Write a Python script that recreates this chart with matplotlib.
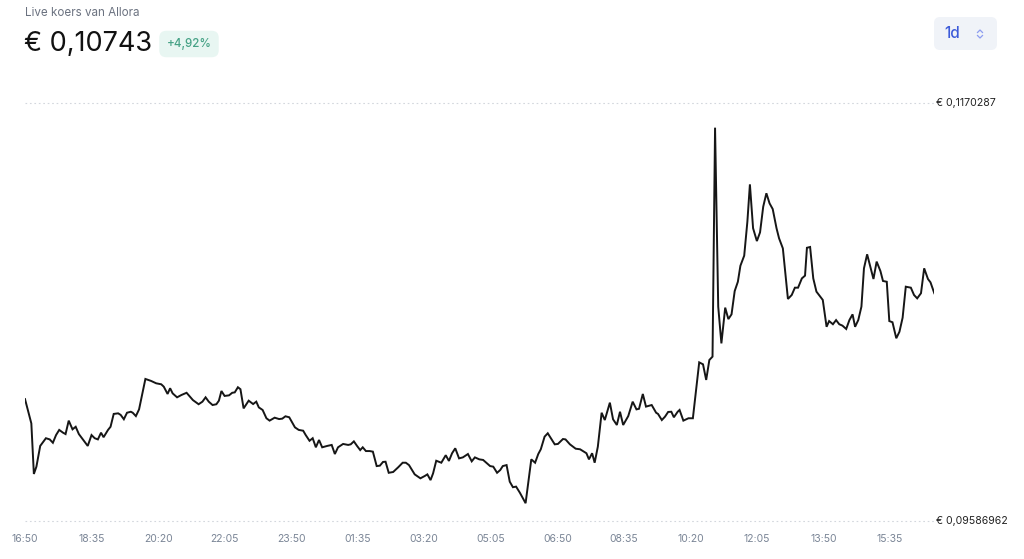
import numpy as np
import matplotlib
matplotlib.use("Agg")
import matplotlib.pyplot as plt
from matplotlib.patches import FancyBboxPatch
from matplotlib.lines import Line2D
from matplotlib.transforms import IdentityTransform, blended_transform_factory

plt.rcParams['font.family'] = ['Inter', 'DejaVu Sans']

# minutes since 16:50 and price in EUR
minutes = [0, 10, 14, 18, 24, 33, 39, 44, 49, 54, 60, 64, 69, 75, 80, 85, 92, 99, 105, 110,
           115, 120, 124, 131, 135, 140, 147, 151, 156, 161, 167, 170, 175, 180, 190, 199, 207, 215, 219, 225,
           229, 233, 240, 247, 255, 265, 274, 280, 285, 290, 296, 302, 306, 310, 315, 322, 327, 331, 336, 340,
           345, 353, 360, 365, 369, 375, 381, 386, 394, 401, 406, 411, 417, 420, 426, 432, 439, 443, 449, 454,
           459, 464, 469, 477, 484, 489, 494, 502, 510, 514, 519, 524, 529, 533, 538, 544, 549, 555, 560, 565,
           569, 574, 581, 589, 596, 601, 606, 615, 624, 631, 635, 640, 644, 649, 657, 664, 669, 674, 679, 685,
           691, 699, 705, 710, 717, 723, 728, 734, 739, 745, 750, 754, 760, 765, 770, 775, 781, 790, 799, 805,
           810, 814, 820, 825, 829, 836, 841, 849, 853, 860, 869, 876, 882, 886, 890, 895, 899, 904, 910, 915,
           923, 928, 934, 939, 944, 952, 959, 965, 969, 975, 980, 989, 996, 999, 1005, 1010, 1015, 1020, 1024, 1030,
           1033, 1039, 1047, 1054, 1064, 1070, 1075, 1080, 1085, 1089, 1094, 1099, 1105, 1110, 1115, 1120, 1125, 1129, 1135, 1140,
           1144, 1149, 1155, 1160, 1165, 1170, 1175, 1180, 1186, 1190, 1196, 1204, 1210, 1215, 1220, 1226, 1231, 1234, 1239, 1244,
           1249, 1259, 1265, 1269, 1275, 1280, 1285, 1290, 1296, 1301, 1306, 1310, 1315, 1320, 1324, 1329, 1339, 1344, 1350, 1354,
           1360, 1364, 1369, 1375, 1380, 1385, 1390, 1398, 1403, 1408, 1414, 1419, 1425, 1429, 1435]

prices = [0.10204, 0.10081, 0.09825, 0.09862, 0.09967, 0.10006, 0.10000, 0.09983, 0.10022, 0.10048,
          0.10034, 0.10027, 0.10095, 0.10051, 0.10064, 0.10027, 0.09997, 0.09967, 0.10022, 0.10006,
          0.10000, 0.10034, 0.10011, 0.10048, 0.10064, 0.10129, 0.10132, 0.10124, 0.10102, 0.10135,
          0.10140, 0.10135, 0.10118, 0.10152, 0.10306, 0.10296, 0.10284, 0.10279, 0.10267, 0.10230,
          0.10259, 0.10233, 0.10213, 0.10225, 0.10236, 0.10199, 0.10178, 0.10191, 0.10213, 0.10191,
          0.10174, 0.10178, 0.10196, 0.10245, 0.10220, 0.10223, 0.10236, 0.10238, 0.10264, 0.10254,
          0.10157, 0.10196, 0.10179, 0.10191, 0.10162, 0.10149, 0.10107, 0.10095, 0.10110, 0.10103,
          0.10105, 0.10117, 0.10112, 0.10095, 0.10061, 0.10048, 0.10044, 0.10022, 0.09993, 0.10006,
          0.09960, 0.09997, 0.09960, 0.09967, 0.09972, 0.09926, 0.09960, 0.09977, 0.09972, 0.09975,
          0.09990, 0.09967, 0.09946, 0.09960, 0.09941, 0.09941, 0.09938, 0.09865, 0.09867, 0.09886,
          0.09887, 0.09831, 0.09835, 0.09859, 0.09882, 0.09882, 0.09870, 0.09823, 0.09803, 0.09815,
          0.09823, 0.09794, 0.09828, 0.09892, 0.09882, 0.09920, 0.09891, 0.09930, 0.09955, 0.09904,
          0.09909, 0.09926, 0.09889, 0.09909, 0.09899, 0.09896, 0.09882, 0.09865, 0.09862, 0.09831,
          0.09845, 0.09865, 0.09870, 0.09786, 0.09758, 0.09761, 0.09730, 0.09677, 0.09899, 0.09882,
          0.09926, 0.09950, 0.10014, 0.10031, 0.10011, 0.09975, 0.09977, 0.10002, 0.10000, 0.09975,
          0.09953, 0.09950, 0.09938, 0.09930, 0.09899, 0.09930, 0.09882, 0.09963, 0.10135, 0.10098,
          0.10186, 0.10102, 0.10073, 0.10140, 0.10073, 0.10118, 0.10191, 0.10152, 0.10155, 0.10230,
          0.10166, 0.10174, 0.10135, 0.10129, 0.10098, 0.10115, 0.10139, 0.10140, 0.10112, 0.10140,
          0.10149, 0.10095, 0.10107, 0.10107, 0.10390, 0.10380, 0.10301, 0.10402, 0.10419, 0.11578,
          0.10672, 0.10486, 0.10667, 0.10609, 0.10633, 0.10751, 0.10798, 0.10879, 0.10930, 0.11102,
          0.11291, 0.11069, 0.11004, 0.11048, 0.11178, 0.11246, 0.11195, 0.11166, 0.11069, 0.11018,
          0.10967, 0.10711, 0.10731, 0.10768, 0.10768, 0.10815, 0.10829, 0.10970, 0.10974, 0.10815,
          0.10748, 0.10706, 0.10570, 0.10599, 0.10583, 0.10604, 0.10583, 0.10576, 0.10559, 0.10604,
          0.10633, 0.10570, 0.10604, 0.10672, 0.10866, 0.10937, 0.10812, 0.10900, 0.10852, 0.10802,
          0.10798, 0.10599, 0.10593, 0.10512, 0.10545, 0.10616, 0.10773, 0.10768, 0.10731, 0.10714,
          0.10740, 0.10866, 0.10812, 0.10795, 0.10740]

tick_minutes = [0, 105, 210, 315, 420, 525, 630, 735, 840, 945, 1050, 1155, 1260, 1365]
tick_labels = ["16:50", "18:35", "20:20", "22:05", "23:50", "01:35", "03:20", "05:05",
               "06:50", "08:35", "10:20", "12:05", "13:50", "15:35"]

y_high = 0.1170287
y_low = 0.09586962
high_label = "€ 0,1170287"
low_label = "€ 0,09586962"

title = "Live koers van Allora"
current = "€ 0,10743"
change = "+4,92%"
period = "1d"

W, H = 1024, 559
fig = plt.figure(figsize=(W / 100, H / 100), dpi=100)
fig.patch.set_facecolor("white")

# plot area in pixels: x 25..934, y 103..521 (from top)
ax = fig.add_axes([25 / W, 1 - 521 / H, (934.3 - 25) / W, (521 - 103) / H])
ax.plot(minutes, prices, color="#161616", lw=1.4, solid_joinstyle="miter")
ax.set_xlim(0, 1435)
ax.set_ylim(y_low, y_high)
for s in ax.spines.values():
    s.set_visible(False)
ax.set_yticks([])
ax.set_xticks(tick_minutes)
ax.set_xticklabels(tick_labels, fontsize=7.5, color="#7a8596")
ax.tick_params(axis="x", length=0, pad=9)

for yv in (y_high, y_low):
    ax.axhline(yv, color="#d3d7dd", lw=0.8, linestyle=(0, (1.5, 2.5)), zorder=0, clip_on=False)

tr = blended_transform_factory(fig.transFigure, ax.transData)
ax.text(936 / W, y_high, high_label, transform=tr, fontsize=7.6, color="#222222", va="center", ha="left")
ax.text(936 / W, y_low, low_label, transform=tr, fontsize=7.6, color="#222222", va="center", ha="left")

# header
fig.text(25 / W, 1 - 13 / H, title, fontsize=8.4, color="#6b7280", va="center", ha="left")
fig.text(24 / W, 1 - 44 / H, current, fontsize=19.5, color="#111111", va="center", ha="left")
fig.text(189 / W, 1 - 44 / H, change, fontsize=8.4, color="#46a286", va="center", ha="center",
         fontweight="medium",
         bbox=dict(boxstyle="round,pad=0.62,rounding_size=0.6", fc="#e8f6f2", ec="none"))

# period selector
idt = IdentityTransform()
fig.add_artist(FancyBboxPatch((934, H - 50), 63, 33, boxstyle="round,pad=0,rounding_size=6",
                              fc="#f0f3f8", ec="none", transform=idt))
fig.text(952 / W, 1 - 34 / H, period, fontsize=11, color="#3d5bd9", va="center", ha="center",
         fontweight="medium")
fig.add_artist(Line2D([977.5, 980, 982.5], [H - 32.5, H - 30, H - 32.5], color="#8c9cf0", lw=0.9, transform=idt))
fig.add_artist(Line2D([977.5, 980, 982.5], [H - 35.5, H - 38, H - 35.5], color="#8c9cf0", lw=0.9, transform=idt))

fig.savefig("out.png", dpi=100, facecolor="white")
